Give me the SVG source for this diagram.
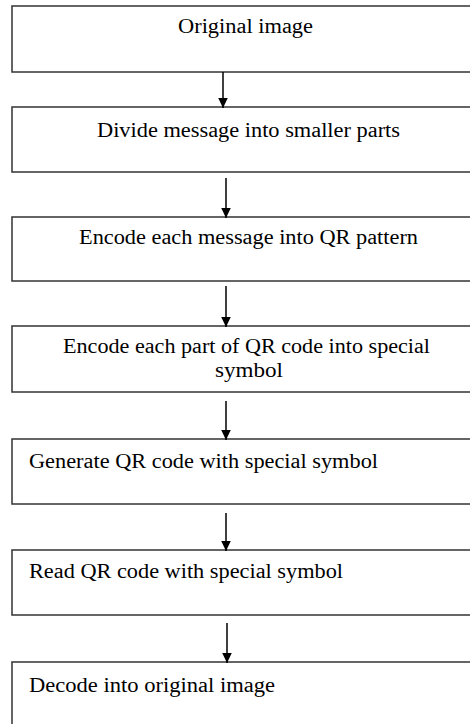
<svg xmlns="http://www.w3.org/2000/svg" width="470" height="724" viewBox="0 0 470 724">
<defs>
<style>
.box{fill:#fff;stroke:#333;stroke-width:1.5}
.t{font-family:"Liberation Serif","Times New Roman",serif;font-size:20px;fill:#000}
.c{stroke:#000;stroke-width:1.5;fill:none}
</style>
<marker id="ah" markerUnits="userSpaceOnUse" markerWidth="11" markerHeight="11" viewBox="0 0 11 11" refX="10.5" refY="5.5" orient="auto">
<path d="M0,0.5 L10.5,5.5 L0,10.5 Z" fill="#000"/>
</marker>
</defs>
<rect width="470" height="724" fill="#fff"/>
<g id="n1"><rect class="box" x="12" y="6" width="470" height="66"/><text class="t" x="178" y="33" textLength="135" lengthAdjust="spacingAndGlyphs">Original image</text></g>
<g id="n2"><rect class="box" x="12" y="107" width="470" height="65"/><text class="t" x="97" y="137" textLength="303" lengthAdjust="spacingAndGlyphs">Divide message into smaller parts</text></g>
<g id="n3"><rect class="box" x="12" y="217" width="470" height="64"/><text class="t" x="79" y="244" textLength="339" lengthAdjust="spacingAndGlyphs">Encode each message into QR pattern</text></g>
<g id="n4"><rect class="box" x="12" y="326" width="470" height="66"/><text class="t" x="63" y="353" textLength="367" lengthAdjust="spacingAndGlyphs">Encode each part of QR code into special</text><text class="t" x="215" y="377" textLength="68" lengthAdjust="spacingAndGlyphs">symbol</text></g>
<g id="n5"><rect class="box" x="12" y="439" width="470" height="65"/><text class="t" x="29" y="468" textLength="349" lengthAdjust="spacingAndGlyphs">Generate QR code with special symbol</text></g>
<g id="n6"><rect class="box" x="12" y="550" width="470" height="65"/><text class="t" x="29" y="578" textLength="314" lengthAdjust="spacingAndGlyphs">Read QR code with special symbol</text></g>
<g id="n7"><rect class="box" x="12" y="662" width="470" height="80"/><text class="t" x="29" y="692" textLength="246" lengthAdjust="spacingAndGlyphs">Decode into original image</text></g>
<g id="connectors">
<line class="c" x1="223" y1="72" x2="223" y2="108" marker-end="url(#ah)"/>
<line class="c" x1="226" y1="178" x2="226" y2="218" marker-end="url(#ah)"/>
<line class="c" x1="226" y1="286" x2="226" y2="327" marker-end="url(#ah)"/>
<line class="c" x1="226" y1="401" x2="226" y2="440" marker-end="url(#ah)"/>
<line class="c" x1="226" y1="513" x2="226" y2="551" marker-end="url(#ah)"/>
<line class="c" x1="227" y1="623" x2="227" y2="663" marker-end="url(#ah)"/>
</g>
</svg>
